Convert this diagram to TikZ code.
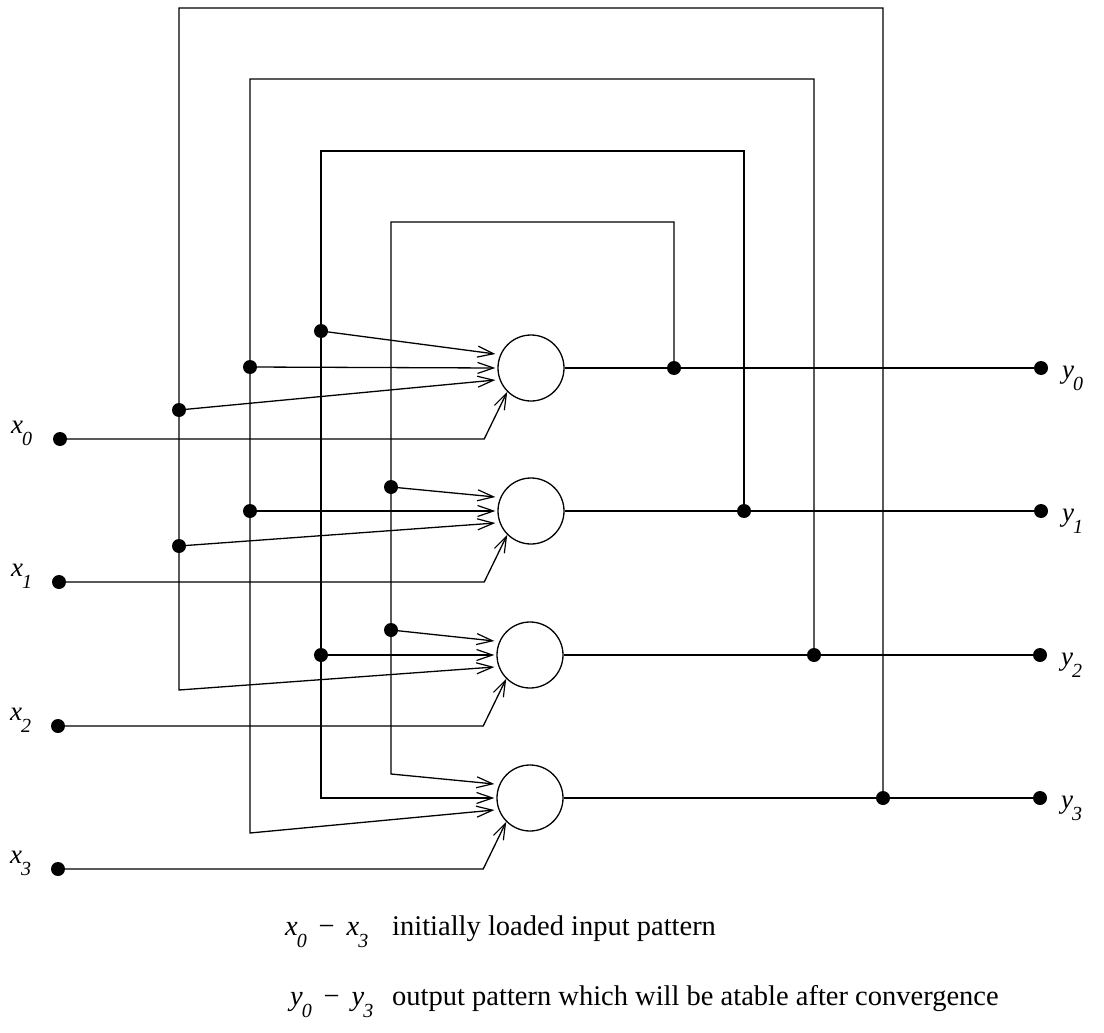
\documentclass[tikz,border=0pt]{standalone}
\usepackage{fontspec}
\setmainfont{Liberation Serif}
\usetikzlibrary{arrows.meta,calc}
\newcommand{\sublab}[2]{{\itshape #1}\kern-1pt\raisebox{-12pt}{\fontsize{20}{20}\selectfont\itshape #2}}
\begin{document}
\begin{tikzpicture}[x=1pt,y=-1pt,
  wire/.style={line width=1.3pt},
  arr/.style={wire,-{Straight Barb[length=16pt,width=11pt,line width=1.2pt]}},
  dot/.style={circle,fill=black,inner sep=0pt,minimum size=14pt},
  term/.style={circle,fill=black,inner sep=0pt,minimum size=14pt},
  neuron/.style={circle,draw,line width=1.3pt,inner sep=0pt,minimum size=66pt},
  lbl/.style={font=\fontsize{27}{27}\selectfont,inner sep=0pt,anchor=base west},
  legend/.style={font=\fontsize{28.5}{28.5}\selectfont,inner sep=0pt,anchor=base west}]
\useasboundingbox (0,0) rectangle (1104,1033);

% neurons
\node[neuron] (n0) at (531,368) {};
\node[neuron] (n1) at (531,511) {};
\node[neuron] (n2) at (530,655) {};
\node[neuron] (n3) at (530,798) {};

% input terminals
\node[term] (x0) at (60,439) {};
\node[term] (x1) at (59,582) {};
\node[term] (x2) at (58,726) {};
\node[term] (x3) at (58,869) {};
\node[lbl] (lx0) at (11,433) {\sublab{x}{0}};
\node[lbl] (lx1) at (11,576) {\sublab{x}{1}};
\node[lbl] (lx2) at (10,720) {\sublab{x}{2}};
\node[lbl] (lx3) at (10,863) {\sublab{x}{3}};

% output terminals
\node[term] (y0) at (1041,368) {};
\node[term] (y1) at (1041,511) {};
\node[term] (y2) at (1040,655) {};
\node[term] (y3) at (1040,798) {};
\node[lbl] (ly0) at (1062,378) {\sublab{y}{0}};
\node[lbl] (ly1) at (1062,521) {\sublab{y}{1}};
\node[lbl] (ly2) at (1061,665) {\sublab{y}{2}};
\node[lbl] (ly3) at (1061,808) {\sublab{y}{3}};

% output junctions
\node[dot] (j0) at (674,368) {};
\node[dot] (j1) at (744,511) {};
\node[dot] (j2) at (814,655) {};
\node[dot] (j3) at (883,798) {};

% loop top-left corners
\coordinate (t0) at (391,222);
\coordinate (t1) at (321,151);
\coordinate (t2) at (250,79);
\coordinate (t3) at (179,8);

% dots on the feedback verticals
\node[dot] (d0b) at (321,331) {};
\node[dot] (d0c) at (250,367) {};
\node[dot] (d0d) at (179,410) {};
\node[dot] (d1a) at (391,487) {};
\node[dot] (d1c) at (250,511) {};
\node[dot] (d1d) at (179,546) {};
\node[dot] (d2a) at (391,630) {};
\node[dot] (d2b) at (321,655) {};
\coordinate (c2d) at (179,690);
\coordinate (c3a) at (391,774);
\coordinate (c3b) at (321,798);
\coordinate (c3c) at (250,833);

% arrow tip points at the neurons
\foreach \n in {0,1,2,3}{
  \coordinate (p\n a) at ([shift={(-2,-14)}]n\n.west);
  \coordinate (p\n b) at ([shift={(-2,0)}]n\n.west);
  \coordinate (p\n c) at ([shift={(-2,12)}]n\n.west);
  \coordinate (q\n) at ([xshift=-23pt]n\n.225);
}

% outputs
\foreach \n in {0,1,2,3}{
  \draw[wire] (n\n.east) -- (y\n.center);
}

% feedback loops
\draw[arr] (j0.center) |- (t0) -- (c3a) -- (p3a);
\draw[arr] (j1.center) |- (t1) -- (c3b) -- (p3b);
\draw[arr] (j2.center) |- (t2) -- (c3c) -- (p3c);
\draw[arr] (j3.center) |- (t3) -- (c2d) -- (p2c);

% branches
\draw[arr] (d0b.center) -- (p0a);
\draw[arr] (d0c.center) -- (p0b);
\draw[arr] (d0d.center) -- (p0c);
\draw[arr] (d1a.center) -- (p1a);
\draw[arr] (d1c.center) -- (p1b);
\draw[arr] (d1d.center) -- (p1c);
\draw[arr] (d2a.center) -- (p2a);
\draw[arr] (d2b.center) -- (p2b);

% external inputs
\foreach \n in {0,1,2,3}{
  \draw[arr] (x\n.center) -- (q\n |- x\n.center) -- (n\n.225);
}

% legend
\node[legend] (lg1) at (285,935) {\sublab{x}{0}\, −\, \sublab{x}{3}};
\node[legend] (lg1t) at (392,935) {initially loaded input pattern};
\node[legend] (lg2) at (290,1005) {\sublab{y}{0}\, −\, \sublab{y}{3}};
\node[legend] (lg2t) at (392,1005) {output pattern which will be atable after convergence};
\end{tikzpicture}
\end{document}
